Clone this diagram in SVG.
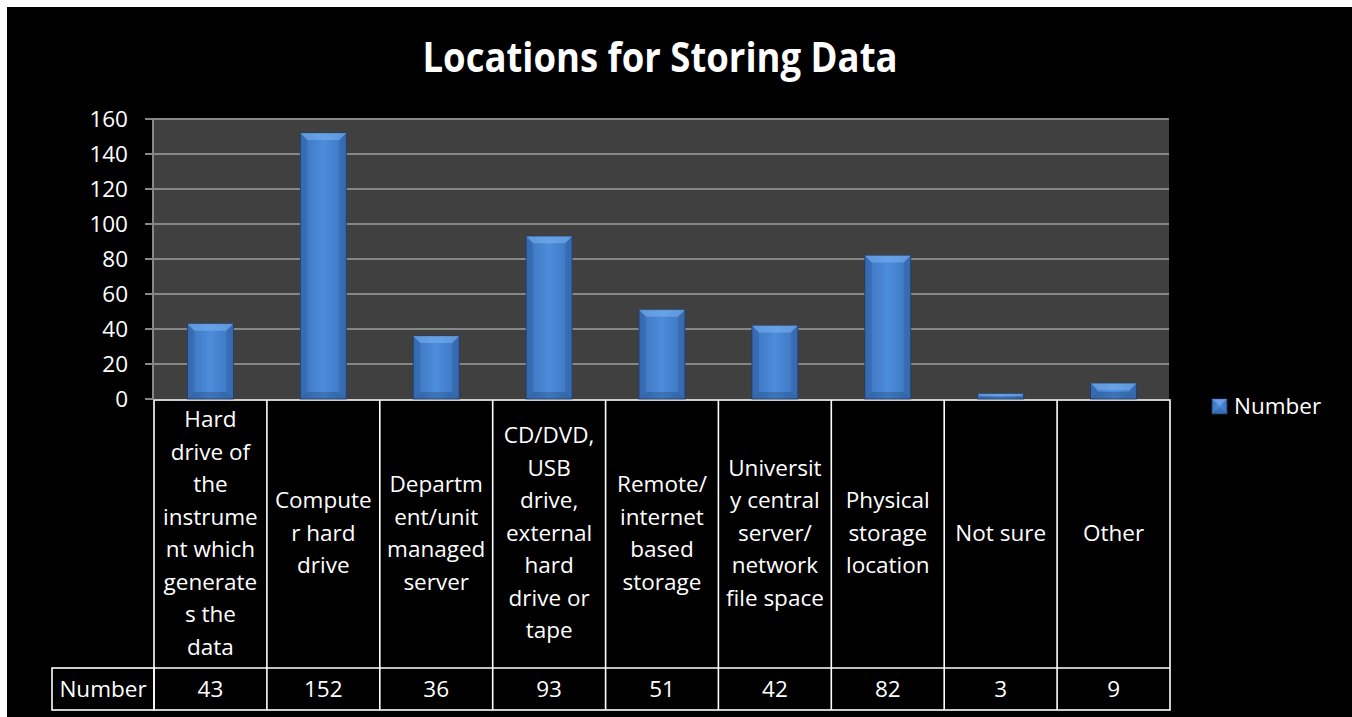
<svg xmlns="http://www.w3.org/2000/svg" width="1352" height="717" viewBox="0 0 1352 717">
<defs>
<linearGradient id="barg" x1="0" y1="0" x2="1" y2="0">
<stop offset="0" stop-color="#3b73bd"/>
<stop offset="0.5" stop-color="#4d8ddb"/>
<stop offset="1" stop-color="#3b73bd"/>
</linearGradient>
<style>
.t{font-family:"Open Sans","Liberation Sans",sans-serif;fill:#fff;font-size:22.5px;text-anchor:middle}
.ax{font-family:"Open Sans","Liberation Sans",sans-serif;fill:#fff;font-size:22.5px;text-anchor:end}
.grid{stroke:#878787;stroke-width:2}
.cell{fill:none;stroke:#fff;stroke-width:1.6}
.face{fill:url(#barg);stroke:#1e3c6a;stroke-width:0.8}
.bt{fill:#7db4f2;opacity:0.55}
.bs{fill:#1a3a6a;opacity:0.18}
.bb{fill:#1a3a6a;opacity:0.3}
</style>
</defs>
<rect x="0" y="0" width="1352" height="717" fill="#fff"/>
<rect x="7" y="7" width="1345" height="710" fill="#000"/>
<text x="660" y="72" style="font-family:'Open Sans','Liberation Sans',sans-serif;font-weight:bold;font-size:41px;fill:#fff;text-anchor:middle" textLength="475" lengthAdjust="spacingAndGlyphs">Locations for Storing Data</text>
<g id="plot">
<rect x="153" y="119" width="1016" height="280" fill="#404040"/>
<g class="grid">
<line x1="145" y1="119" x2="1169" y2="119"/>
<line x1="145" y1="154" x2="1169" y2="154"/>
<line x1="145" y1="189" x2="1169" y2="189"/>
<line x1="145" y1="224" x2="1169" y2="224"/>
<line x1="145" y1="259" x2="1169" y2="259"/>
<line x1="145" y1="294" x2="1169" y2="294"/>
<line x1="145" y1="329" x2="1169" y2="329"/>
<line x1="145" y1="364" x2="1169" y2="364"/>
<line x1="145" y1="399" x2="153" y2="399"/>
<line x1="153" y1="119" x2="153" y2="399"/>
</g>
<g class="ax">
<text x="128" y="127">160</text>
<text x="128" y="162">140</text>
<text x="128" y="197">120</text>
<text x="128" y="232">100</text>
<text x="128" y="267">80</text>
<text x="128" y="302">60</text>
<text x="128" y="337">40</text>
<text x="128" y="372">20</text>
<text x="128" y="407">0</text>
</g>
</g>
<g id="table">
<rect class="cell" x="52" y="668" width="102" height="42"/>
<text class="t" x="103" y="697">Number</text>
<rect class="cell" x="154" y="400" width="1016" height="310"/>
<line class="cell" x1="154" y1="668" x2="1170" y2="668"/>
<line class="cell" x1="266.9" y1="400" x2="266.9" y2="710"/>
<line class="cell" x1="379.8" y1="400" x2="379.8" y2="710"/>
<line class="cell" x1="492.7" y1="400" x2="492.7" y2="710"/>
<line class="cell" x1="605.6" y1="400" x2="605.6" y2="710"/>
<line class="cell" x1="718.4" y1="400" x2="718.4" y2="710"/>
<line class="cell" x1="831.3" y1="400" x2="831.3" y2="710"/>
<line class="cell" x1="944.2" y1="400" x2="944.2" y2="710"/>
<line class="cell" x1="1057.1" y1="400" x2="1057.1" y2="710"/>
</g>
<g id="c1">
<g transform="translate(187.4,323.75)"><rect class="face" width="46" height="75.25"/><polygon class="bt" points="0,0 46,0 39,7 7,7"/><polygon class="bs" points="0,0 7,7 7,68.25 0,75.25"/><polygon class="bs" points="46,0 39,7 39,68.25 46,75.25"/><polygon class="bb" points="0,75.25 7,68.25 39,68.25 46,75.25"/></g>
<text class="t"><tspan x="210.4" y="427">Hard</tspan><tspan x="210.4" y="459.5">drive of</tspan><tspan x="210.4" y="492">the</tspan><tspan x="210.4" y="524.5">instrume</tspan><tspan x="210.4" y="557">nt which</tspan><tspan x="210.4" y="589.5">generate</tspan><tspan x="210.4" y="622">s the</tspan><tspan x="210.4" y="654.5">data</tspan></text>
<text class="t" x="210.4" y="697">43</text>
</g>
<g id="c2">
<g transform="translate(300.3,133)"><rect class="face" width="46" height="266"/><polygon class="bt" points="0,0 46,0 39,7 7,7"/><polygon class="bs" points="0,0 7,7 7,259 0,266"/><polygon class="bs" points="46,0 39,7 39,259 46,266"/><polygon class="bb" points="0,266 7,259 39,259 46,266"/></g>
<text class="t"><tspan x="323.3" y="508.3">Compute</tspan><tspan x="323.3" y="540.8">r hard</tspan><tspan x="323.3" y="573.3">drive</tspan></text>
<text class="t" x="323.3" y="697">152</text>
</g>
<g id="c3">
<g transform="translate(413.2,336)"><rect class="face" width="46" height="63"/><polygon class="bt" points="0,0 46,0 39,7 7,7"/><polygon class="bs" points="0,0 7,7 7,56 0,63"/><polygon class="bs" points="46,0 39,7 39,56 46,63"/><polygon class="bb" points="0,63 7,56 39,56 46,63"/></g>
<text class="t"><tspan x="436.2" y="492">Departm</tspan><tspan x="436.2" y="524.5">ent/unit</tspan><tspan x="436.2" y="557">managed</tspan><tspan x="436.2" y="589.5">server</tspan></text>
<text class="t" x="436.2" y="697">36</text>
</g>
<g id="c4">
<g transform="translate(526.1,236.25)"><rect class="face" width="46" height="162.75"/><polygon class="bt" points="0,0 46,0 39,7 7,7"/><polygon class="bs" points="0,0 7,7 7,155.75 0,162.75"/><polygon class="bs" points="46,0 39,7 39,155.75 46,162.75"/><polygon class="bb" points="0,162.75 7,155.75 39,155.75 46,162.75"/></g>
<text class="t"><tspan x="549.1" y="443.3">CD/DVD,</tspan><tspan x="549.1" y="475.8">USB</tspan><tspan x="549.1" y="508.3">drive,</tspan><tspan x="549.1" y="540.8">external</tspan><tspan x="549.1" y="573.3">hard</tspan><tspan x="549.1" y="605.8">drive or</tspan><tspan x="549.1" y="638.3">tape</tspan></text>
<text class="t" x="549.1" y="697">93</text>
</g>
<g id="c5">
<g transform="translate(639,309.75)"><rect class="face" width="46" height="89.25"/><polygon class="bt" points="0,0 46,0 39,7 7,7"/><polygon class="bs" points="0,0 7,7 7,82.25 0,89.25"/><polygon class="bs" points="46,0 39,7 39,82.25 46,89.25"/><polygon class="bb" points="0,89.25 7,82.25 39,82.25 46,89.25"/></g>
<text class="t"><tspan x="662" y="492">Remote/</tspan><tspan x="662" y="524.5">internet</tspan><tspan x="662" y="557">based</tspan><tspan x="662" y="589.5">storage</tspan></text>
<text class="t" x="662" y="697">51</text>
</g>
<g id="c6">
<g transform="translate(751.9,325.5)"><rect class="face" width="46" height="73.5"/><polygon class="bt" points="0,0 46,0 39,7 7,7"/><polygon class="bs" points="0,0 7,7 7,66.5 0,73.5"/><polygon class="bs" points="46,0 39,7 39,66.5 46,73.5"/><polygon class="bb" points="0,73.5 7,66.5 39,66.5 46,73.5"/></g>
<text class="t"><tspan x="774.9" y="475.8">Universit</tspan><tspan x="774.9" y="508.3">y central</tspan><tspan x="774.9" y="540.8">server/</tspan><tspan x="774.9" y="573.3">network</tspan><tspan x="774.9" y="605.8">file space</tspan></text>
<text class="t" x="774.9" y="697">42</text>
</g>
<g id="c7">
<g transform="translate(864.8,255.5)"><rect class="face" width="46" height="143.5"/><polygon class="bt" points="0,0 46,0 39,7 7,7"/><polygon class="bs" points="0,0 7,7 7,136.5 0,143.5"/><polygon class="bs" points="46,0 39,7 39,136.5 46,143.5"/><polygon class="bb" points="0,143.5 7,136.5 39,136.5 46,143.5"/></g>
<text class="t"><tspan x="887.8" y="508.3">Physical</tspan><tspan x="887.8" y="540.8">storage</tspan><tspan x="887.8" y="573.3">location</tspan></text>
<text class="t" x="887.8" y="697">82</text>
</g>
<g id="c8">
<g transform="translate(977.7,393.75)"><rect class="face" width="46" height="5.25"/><polygon class="bt" points="0,0 46,0 43.4,2.6 2.6,2.6"/><polygon class="bb" points="0,5.25 2.6,2.65 43.4,2.65 46,5.25"/></g>
<text class="t" x="1000.7" y="540.8">Not sure</text>
<text class="t" x="1000.7" y="697">3</text>
</g>
<g id="c9">
<g transform="translate(1090.6,383.25)"><rect class="face" width="46" height="15.75"/><polygon class="bt" points="0,0 46,0 39,7 7,7"/><polygon class="bs" points="0,0 7,7 7,8.75 0,15.75"/><polygon class="bs" points="46,0 39,7 39,8.75 46,15.75"/><polygon class="bb" points="0,15.75 7,8.75 39,8.75 46,15.75"/></g>
<text class="t" x="1113.6" y="540.8">Other</text>
<text class="t" x="1113.6" y="697">9</text>
</g>
<g id="legend">
<g transform="translate(1212,399)"><rect class="face" width="15" height="15"/><polygon class="bt" points="0,0 15,0 7.5,7"/><polygon class="bb" points="0,15 7.5,8 15,15"/></g>
<text x="1234" y="414" style="font-family:'Open Sans','Liberation Sans',sans-serif;fill:#fff;font-size:22.5px">Number</text>
</g>
</svg>
